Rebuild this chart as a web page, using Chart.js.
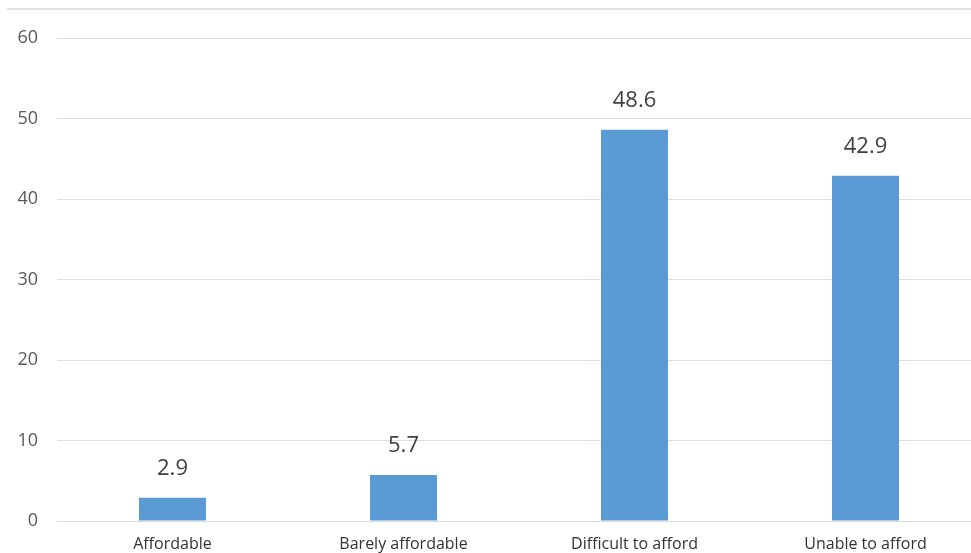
<!DOCTYPE html>
<html>
<head>
<meta charset="utf-8">
<script src="https://cdn.jsdelivr.net/npm/chart.js@4/dist/chart.umd.min.js"></script>
<style>
  html, body { margin: 0; padding: 0; background: #fff; overflow: hidden; }
  #frame { position: absolute; left: 7px; top: 8px; width: 980px; border-top: 2px solid #e3e3e3; }
  #wrap { position: absolute; left: 0; top: 0; width: 981px; height: 553px; }
</style>
</head>
<body>
<div id="frame"></div>
<div id="wrap"><canvas id="affordChart"></canvas></div>
<script>
// categories and values
const categories = ["Affordable", "Barely affordable", "Difficult to afford", "Unable to afford"];
const shares = [2.9, 5.7, 48.6, 42.9];
const yTicks = [0, 10, 20, 30, 40, 50, 60];

const fontFamily = "'Open Sans', 'DejaVu Sans', sans-serif";

// writes each value above its bar
const valueLabels = {
  id: "valueLabels",
  afterDatasetsDraw(chart) {
    const ctx = chart.ctx;
    const meta = chart.getDatasetMeta(0);
    ctx.save();
    ctx.font = "22px " + fontFamily;
    ctx.fillStyle = "#404040";
    ctx.textAlign = "center";
    ctx.textBaseline = "bottom";
    meta.data.forEach((bar, i) => {
      ctx.fillText(shares[i].toFixed(1), bar.x, bar.y - 18);
    });
    ctx.restore();
  }
};

new Chart(document.getElementById("affordChart"), {
  type: "bar",
  data: {
    labels: categories,
    datasets: [{
      data: shares,
      backgroundColor: "#5b9bd5",
      borderWidth: 0,
      barPercentage: 0.29,
      categoryPercentage: 1
    }]
  },
  options: {
    responsive: true,
    maintainAspectRatio: false,
    animation: false,
    layout: { padding: { top: 38, right: 0, bottom: 0, left: 0 } },
    plugins: {
      legend: { display: false },
      tooltip: { enabled: false }
    },
    scales: {
      x: {
        grid: { display: false, drawTicks: false },
        border: { display: false },
        ticks: {
          padding: 14,
          color: "#333333",
          font: { family: fontFamily, size: 16 },
          maxRotation: 0
        },
        afterFit(scale) { scale.height = 32; }
      },
      y: {
        min: 0,
        max: 60,
        afterBuildTicks(scale) { scale.ticks = yTicks.map(v => ({ value: v })); },
        grid: { color: "#dcdcdc", lineWidth: 1, drawTicks: false },
        border: { display: false },
        ticks: {
          padding: 19,
          color: "#595959",
          font: { family: fontFamily, size: 18 }
        },
        afterFit(scale) { scale.width = 57; }
      }
    }
  },
  plugins: [valueLabels]
});
</script>
</body>
</html>
